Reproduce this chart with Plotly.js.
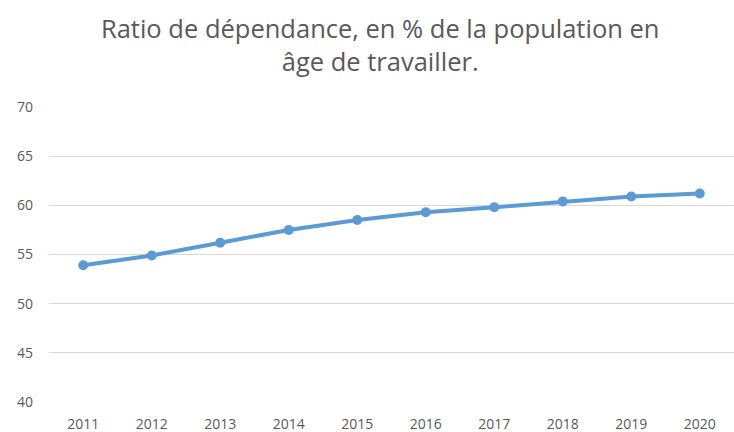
<!DOCTYPE html>
<html>
<head>
<meta charset="utf-8">
<script src="https://cdn.plot.ly/plotly-3.0.1.min.js"></script>
<style>html,body{margin:0;padding:0;background:#fff;}#chart{width:734px;height:432px;}</style>
</head>
<body>
<div id="chart"></div>
<script>
const years = ["2011","2012","2013","2014","2015","2016","2017","2018","2019","2020"];
const ratio = [53.9, 54.9, 56.2, 57.5, 58.5, 59.3, 59.8, 60.4, 60.9, 61.2];
const yTicks = [40, 45, 50, 55, 60, 65, 70];

const trace = {
  x: years, y: ratio, type: "scatter", mode: "lines+markers",
  line: {color: "#5B9BD5", width: 4},
  marker: {color: "#5B9BD5", size: 10},
  hoverinfo: "skip"
};
const layout = {
  width: 734, height: 432,
  margin: {l: 49, r: 0, t: 107, b: 30},
  paper_bgcolor: "#fff", plot_bgcolor: "#fff",
  font: {family: "Open Sans, Liberation Sans, sans-serif", color: "#595959", size: 14},
  title: {text: "Ratio de dépendance, en % de la population en<br>âge de travailler.",
          font: {size: 25.5, color: "#595959"}, x: 0.518, xanchor: "center", y: 0.912, yanchor: "middle"},
  xaxis: {type: "category", range: [-0.5, 9.5], showgrid: false, zeroline: false, showline: false,
          ticks: "", ticklabelstandoff: 12, tickfont: {size: 14, color: "#595959"}, fixedrange: true},
  yaxis: {range: [40, 70], tickvals: yTicks, showgrid: true, gridcolor: "#D9D9D9", gridwidth: 1,
          zeroline: false, showline: false, ticks: "", ticklabelstandoff: 15, tickfont: {size: 14, color: "#595959"}, fixedrange: true},
  showlegend: false
};
Plotly.newPlot("chart", [trace], layout, {displayModeBar: false, staticPlot: true});
</script>
</body>
</html>
